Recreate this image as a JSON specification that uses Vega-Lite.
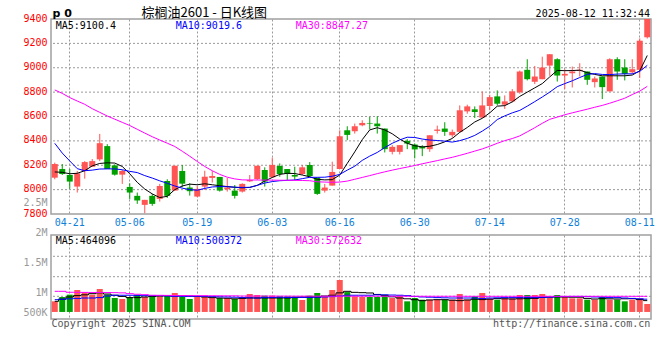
{
"$schema": "https://vega.github.io/schema/vega-lite/v6.json",
"background": "white",
"padding": {"left": 22, "top": 5, "right": 10, "bottom": 0},
"spacing": 21,
"bounds": "flush",
"resolve": {"scale": {"color": "independent"}},
"config": {
  "view": {"stroke": "#a0a0a0", "strokeWidth": 1.5},
  "axis": {"domain": false, "ticks": false, "gridColor": "#9a9a9a", "gridDash": [2, 2], "gridWidth": 1, "labelFont": "DejaVu Sans Mono", "labelFontSize": 10, "titleFont": "DejaVu Sans Mono", "titleFontWeight": "normal", "labelOverlap": false},
  "text": {"font": "DejaVu Sans Mono", "fontSize": 10}
},
"datasets": {
  "k": [
{"d":"04-17","o":8098,"h":8221,"l":8085,"c":8210,"ma5":8145,"ma10":8380,"ma30":8818,"v":446000,"vm5":446000,"vm10":488000,"vm30":699000},
{"d":"04-18","o":8169,"h":8210,"l":8120,"c":8128,"ma5":8142,"ma10":8300,"ma30":8790,"v":556000,"vm5":500000,"vm10":500000,"vm30":699000},
{"d":"04-21","o":8120,"h":8169,"l":8008,"c":8066,"ma5":8130,"ma10":8235,"ma30":8755,"v":615000,"vm5":556000,"vm10":510000,"vm30":675000},
{"d":"04-22","o":8025,"h":8153,"l":7976,"c":8134,"ma5":8134,"ma10":8172,"ma30":8727,"v":732000,"vm5":590000,"vm10":520000,"vm30":673000},
{"d":"04-23","o":8153,"h":8234,"l":8090,"c":8226,"ma5":8155,"ma10":8155,"ma30":8700,"v":673000,"vm5":610000,"vm10":530000,"vm30":672000},
{"d":"04-24","o":8188,"h":8251,"l":8188,"c":8234,"ma5":8195,"ma10":8160,"ma30":8664,"v":615000,"vm5":640000,"vm10":530000,"vm30":670000},
{"d":"04-25","o":8248,"h":8457,"l":8234,"c":8381,"ma5":8215,"ma10":8169,"ma30":8634,"v":758000,"vm5":660000,"vm10":540000,"vm30":670000},
{"d":"04-28","o":8357,"h":8373,"l":8169,"c":8169,"ma5":8220,"ma10":8170,"ma30":8604,"v":615000,"vm5":630000,"vm10":580000,"vm30":668000},
{"d":"04-29","o":8199,"h":8207,"l":8115,"c":8123,"ma5":8218,"ma10":8170,"ma30":8578,"v":530000,"vm5":600000,"vm10":600000,"vm30":665000},
{"d":"04-30","o":8123,"h":8161,"l":8047,"c":8153,"ma5":8190,"ma10":8163,"ma30":8552,"v":505000,"vm5":570000,"vm10":600000,"vm30":660000},
{"d":"05-06","o":8022,"h":8052,"l":7921,"c":7976,"ma5":8130,"ma10":8150,"ma30":8526,"v":556000,"vm5":540000,"vm10":600000,"vm30":640000},
{"d":"05-07","o":7949,"h":7976,"l":7883,"c":7911,"ma5":8060,"ma10":8140,"ma30":8495,"v":615000,"vm5":540000,"vm10":590000,"vm30":625000},
{"d":"05-08","o":7875,"h":7916,"l":7807,"c":7916,"ma5":8005,"ma10":8115,"ma30":8464,"v":556000,"vm5":556000,"vm10":590000,"vm30":615000},
{"d":"05-09","o":7949,"h":7965,"l":7867,"c":7883,"ma5":7965,"ma10":8095,"ma30":8434,"v":556000,"vm5":570000,"vm10":590000,"vm30":600000},
{"d":"05-12","o":7924,"h":8047,"l":7902,"c":8030,"ma5":7935,"ma10":8072,"ma30":8407,"v":572000,"vm5":580000,"vm10":590000,"vm30":598000},
{"d":"05-13","o":8071,"h":8085,"l":7932,"c":7949,"ma5":7945,"ma10":8052,"ma30":8381,"v":606000,"vm5":589000,"vm10":580000,"vm30":596000},
{"d":"05-14","o":7992,"h":8196,"l":7992,"c":8196,"ma5":8000,"ma10":8030,"ma30":8354,"v":657000,"vm5":589000,"vm10":572000,"vm30":594000},
{"d":"05-15","o":8153,"h":8202,"l":8019,"c":8049,"ma5":8030,"ma10":8012,"ma30":8315,"v":556000,"vm5":589000,"vm10":572000,"vm30":592000},
{"d":"05-16","o":8017,"h":8052,"l":7951,"c":7987,"ma5":8045,"ma10":8000,"ma30":8274,"v":505000,"vm5":580000,"vm10":572000,"vm30":590000},
{"d":"05-19","o":7943,"h":8030,"l":7938,"c":8006,"ma5":8040,"ma10":7995,"ma30":8231,"v":572000,"vm5":570000,"vm10":572000,"vm30":589000},
{"d":"05-20","o":8025,"h":8155,"l":7998,"c":8106,"ma5":8048,"ma10":8010,"ma30":8190,"v":589000,"vm5":556000,"vm10":572000,"vm30":588000},
{"d":"05-21","o":8096,"h":8153,"l":8058,"c":8112,"ma5":8040,"ma10":8022,"ma30":8155,"v":530000,"vm5":540000,"vm10":565000,"vm30":587000},
{"d":"05-22","o":8104,"h":8104,"l":7984,"c":7992,"ma5":8032,"ma10":8025,"ma30":8125,"v":530000,"vm5":530000,"vm10":560000,"vm30":586000},
{"d":"05-23","o":8003,"h":8096,"l":7984,"c":8017,"ma5":8025,"ma10":8024,"ma30":8102,"v":530000,"vm5":525000,"vm10":556000,"vm30":585000},
{"d":"05-26","o":7992,"h":8038,"l":7927,"c":7949,"ma5":8019,"ma10":8020,"ma30":8088,"v":505000,"vm5":510000,"vm10":550000,"vm30":585000},
{"d":"05-27","o":7984,"h":8052,"l":7976,"c":8047,"ma5":8015,"ma10":8018,"ma30":8080,"v":556000,"vm5":520000,"vm10":540000,"vm30":580000},
{"d":"05-28","o":8068,"h":8120,"l":8063,"c":8079,"ma5":8018,"ma10":8019,"ma30":8079,"v":631000,"vm5":530000,"vm10":535000,"vm30":580000},
{"d":"05-29","o":8087,"h":8196,"l":8079,"c":8196,"ma5":8035,"ma10":8035,"ma30":8079,"v":606000,"vm5":530000,"vm10":530000,"vm30":579000},
{"d":"05-30","o":8161,"h":8183,"l":8025,"c":8066,"ma5":8070,"ma10":8054,"ma30":8078,"v":589000,"vm5":530000,"vm10":540000,"vm30":579000},
{"d":"06-03","o":8101,"h":8262,"l":8101,"c":8202,"ma5":8100,"ma10":8066,"ma30":8078,"v":589000,"vm5":530000,"vm10":545000,"vm30":578000},
{"d":"06-04","o":8194,"h":8215,"l":8106,"c":8128,"ma5":8125,"ma10":8073,"ma30":8077,"v":572000,"vm5":530000,"vm10":550000,"vm30":578000},
{"d":"06-05","o":8169,"h":8169,"l":8079,"c":8128,"ma5":8134,"ma10":8076,"ma30":8077,"v":572000,"vm5":530000,"vm10":545000,"vm30":578000},
{"d":"06-06","o":8120,"h":8188,"l":8079,"c":8107,"ma5":8132,"ma10":8079,"ma30":8076,"v":572000,"vm5":540000,"vm10":545000,"vm30":577000},
{"d":"06-09","o":8128,"h":8202,"l":8120,"c":8183,"ma5":8120,"ma10":8090,"ma30":8075,"v":480000,"vm5":556000,"vm10":545000,"vm30":577000},
{"d":"06-10","o":8202,"h":8226,"l":8101,"c":8112,"ma5":8105,"ma10":8101,"ma30":8073,"v":589000,"vm5":556000,"vm10":545000,"vm30":577000},
{"d":"06-11","o":8098,"h":8098,"l":7957,"c":7965,"ma5":8085,"ma10":8101,"ma30":8064,"v":657000,"vm5":556000,"vm10":550000,"vm30":576000},
{"d":"06-12","o":7992,"h":8047,"l":7976,"c":8017,"ma5":8080,"ma10":8102,"ma30":8062,"v":572000,"vm5":580000,"vm10":556000,"vm30":576000},
{"d":"06-13","o":8033,"h":8229,"l":8033,"c":8145,"ma5":8082,"ma10":8110,"ma30":8060,"v":732000,"vm5":600000,"vm10":565000,"vm30":576000},
{"d":"06-16","o":8169,"h":8487,"l":8169,"c":8438,"ma5":8120,"ma10":8125,"ma30":8062,"v":985000,"vm5":660000,"vm10":580000,"vm30":575000},
{"d":"06-17","o":8487,"h":8520,"l":8406,"c":8449,"ma5":8215,"ma10":8160,"ma30":8070,"v":680000,"vm5":699000,"vm10":600000,"vm30":575000},
{"d":"06-18","o":8479,"h":8542,"l":8460,"c":8520,"ma5":8310,"ma10":8192,"ma30":8085,"v":572000,"vm5":673000,"vm10":600000,"vm30":575000},
{"d":"06-19","o":8528,"h":8569,"l":8520,"c":8547,"ma5":8410,"ma10":8240,"ma30":8100,"v":556000,"vm5":665000,"vm10":600000,"vm30":575000},
{"d":"06-20","o":8547,"h":8596,"l":8493,"c":8542,"ma5":8490,"ma10":8275,"ma30":8115,"v":556000,"vm5":657000,"vm10":600000,"vm30":575000},
{"d":"06-23","o":8542,"h":8602,"l":8460,"c":8520,"ma5":8508,"ma10":8305,"ma30":8131,"v":556000,"vm5":620000,"vm10":610000,"vm30":575000},
{"d":"06-24","o":8501,"h":8501,"l":8305,"c":8332,"ma5":8490,"ma10":8345,"ma30":8146,"v":615000,"vm5":590000,"vm10":610000,"vm30":575000},
{"d":"06-25","o":8310,"h":8365,"l":8289,"c":8351,"ma5":8458,"ma10":8380,"ma30":8160,"v":530000,"vm5":560000,"vm10":605000,"vm30":575000},
{"d":"06-26","o":8310,"h":8365,"l":8289,"c":8365,"ma5":8415,"ma10":8408,"ma30":8173,"v":589000,"vm5":530000,"vm10":600000,"vm30":575000},
{"d":"06-27","o":8400,"h":8414,"l":8332,"c":8378,"ma5":8380,"ma10":8430,"ma30":8185,"v":446000,"vm5":510000,"vm10":590000,"vm30":574000},
{"d":"06-30","o":8370,"h":8378,"l":8256,"c":8330,"ma5":8360,"ma10":8428,"ma30":8198,"v":530000,"vm5":488000,"vm10":570000,"vm30":574000},
{"d":"07-01","o":8351,"h":8365,"l":8275,"c":8338,"ma5":8351,"ma10":8415,"ma30":8212,"v":488000,"vm5":463000,"vm10":556000,"vm30":574000},
{"d":"07-02","o":8332,"h":8446,"l":8310,"c":8446,"ma5":8356,"ma10":8407,"ma30":8225,"v":488000,"vm5":480000,"vm10":550000,"vm30":574000},
{"d":"07-03","o":8482,"h":8525,"l":8460,"c":8493,"ma5":8370,"ma10":8403,"ma30":8238,"v":488000,"vm5":488000,"vm10":540000,"vm30":574000},
{"d":"07-04","o":8501,"h":8553,"l":8441,"c":8474,"ma5":8392,"ma10":8398,"ma30":8252,"v":488000,"vm5":488000,"vm10":535000,"vm30":574000},
{"d":"07-07","o":8446,"h":8493,"l":8427,"c":8474,"ma5":8420,"ma10":8390,"ma30":8265,"v":488000,"vm5":475000,"vm10":530000,"vm30":574000},
{"d":"07-08","o":8474,"h":8691,"l":8466,"c":8651,"ma5":8470,"ma10":8402,"ma30":8281,"v":631000,"vm5":463000,"vm10":530000,"vm30":573000},
{"d":"07-09","o":8642,"h":8697,"l":8623,"c":8683,"ma5":8510,"ma10":8420,"ma30":8298,"v":488000,"vm5":480000,"vm10":530000,"vm30":573000},
{"d":"07-10","o":8659,"h":8683,"l":8588,"c":8637,"ma5":8555,"ma10":8445,"ma30":8316,"v":572000,"vm5":500000,"vm10":530000,"vm30":573000},
{"d":"07-11","o":8591,"h":8806,"l":8588,"c":8691,"ma5":8585,"ma10":8480,"ma30":8334,"v":657000,"vm5":490000,"vm10":520000,"vm30":573000},
{"d":"07-14","o":8686,"h":8778,"l":8651,"c":8759,"ma5":8630,"ma10":8520,"ma30":8356,"v":522000,"vm5":500000,"vm10":530000,"vm30":573000},
{"d":"07-15","o":8765,"h":8814,"l":8691,"c":8705,"ma5":8685,"ma10":8575,"ma30":8380,"v":488000,"vm5":515000,"vm10":535000,"vm30":573000},
{"d":"07-16","o":8697,"h":8773,"l":8662,"c":8724,"ma5":8689,"ma10":8605,"ma30":8402,"v":522000,"vm5":510000,"vm10":540000,"vm30":573000},
{"d":"07-17","o":8724,"h":8825,"l":8716,"c":8806,"ma5":8720,"ma10":8630,"ma30":8419,"v":522000,"vm5":505000,"vm10":540000,"vm30":573000},
{"d":"07-18","o":8798,"h":8977,"l":8787,"c":8969,"ma5":8765,"ma10":8650,"ma30":8441,"v":606000,"vm5":510000,"vm10":540000,"vm30":573000},
{"d":"07-21","o":8983,"h":9070,"l":8896,"c":8906,"ma5":8800,"ma10":8685,"ma30":8474,"v":606000,"vm5":515000,"vm10":540000,"vm30":573000},
{"d":"07-22","o":8885,"h":9015,"l":8866,"c":8928,"ma5":8835,"ma10":8722,"ma30":8508,"v":606000,"vm5":520000,"vm10":540000,"vm30":573000},
{"d":"07-23","o":8906,"h":9091,"l":8906,"c":9002,"ma5":8870,"ma10":8760,"ma30":8544,"v":631000,"vm5":545000,"vm10":545000,"vm30":573000},
{"d":"07-24","o":9018,"h":9111,"l":8934,"c":9111,"ma5":8925,"ma10":8800,"ma30":8577,"v":547000,"vm5":556000,"vm10":550000,"vm30":573000},
{"d":"07-25","o":9070,"h":9078,"l":8887,"c":8936,"ma5":8978,"ma10":8845,"ma30":8595,"v":606000,"vm5":556000,"vm10":565000,"vm30":573000},
{"d":"07-28","o":8936,"h":8988,"l":8825,"c":8950,"ma5":8976,"ma10":8870,"ma30":8614,"v":572000,"vm5":556000,"vm10":565000,"vm30":573000},
{"d":"07-29","o":8955,"h":9010,"l":8838,"c":8969,"ma5":8977,"ma10":8893,"ma30":8630,"v":522000,"vm5":550000,"vm10":570000,"vm30":573000},
{"d":"07-30","o":8974,"h":9037,"l":8928,"c":8983,"ma5":8980,"ma10":8920,"ma30":8645,"v":522000,"vm5":550000,"vm10":570000,"vm30":573000},
{"d":"07-31","o":8969,"h":8969,"l":8860,"c":8901,"ma5":8960,"ma10":8945,"ma30":8660,"v":488000,"vm5":520000,"vm10":565000,"vm30":573000},
{"d":"08-01","o":8882,"h":8928,"l":8838,"c":8912,"ma5":8945,"ma10":8952,"ma30":8676,"v":488000,"vm5":505000,"vm10":556000,"vm30":573000},
{"d":"08-04","o":8928,"h":8928,"l":8743,"c":8841,"ma5":8934,"ma10":8945,"ma30":8691,"v":556000,"vm5":514000,"vm10":550000,"vm30":573000},
{"d":"08-05","o":8806,"h":9078,"l":8806,"c":9070,"ma5":8934,"ma10":8944,"ma30":8709,"v":488000,"vm5":510000,"vm10":545000,"vm30":573000},
{"d":"08-06","o":9070,"h":9086,"l":8901,"c":8969,"ma5":8934,"ma10":8948,"ma30":8729,"v":488000,"vm5":505000,"vm10":540000,"vm30":573000},
{"d":"08-07","o":9002,"h":9070,"l":8896,"c":8950,"ma5":8934,"ma10":8950,"ma30":8750,"v":446000,"vm5":510000,"vm10":530000,"vm30":573000},
{"d":"08-08","o":8963,"h":9070,"l":8950,"c":8988,"ma5":8940,"ma10":8950,"ma30":8780,"v":488000,"vm5":514000,"vm10":520000,"vm30":573000},
{"d":"08-11","o":8983,"h":9241,"l":8915,"c":9222,"ma5":8975,"ma10":8970,"ma30":8808,"v":522000,"vm5":490000,"vm10":510000,"vm30":573000},
{"d":"08-12","o":9250,"h":9400,"l":9240,"c":9400,"ma5":9100.4,"ma10":9019.6,"ma30":8847.27,"v":379000,"vm5":464096,"vm10":500372,"vm30":572632}
  ],
  "gridMain": [{"g": 8000}, {"g": 8200}, {"g": 8400}, {"g": 8600}, {"g": 8800}, {"g": 9000}, {"g": 9200}],
  "gridVol": [{"g": 573000}, {"g": 1068000}, {"g": 1583000}],
  "mainLeg": [
    {"key": "ma5", "text": "MA5:9100.4", "d": "04-17"},
    {"key": "ma10", "text": "MA10:9019.6", "d": "05-14"},
    {"key": "ma30", "text": "MA30:8847.27", "d": "06-06"}
  ],
  "volLeg": [
    {"key": "vm5", "text": "MA5:464096", "d": "04-17"},
    {"key": "vm10", "text": "MA10:500372", "d": "05-14"},
    {"key": "vm30", "text": "MA30:572632", "d": "06-06"}
  ]
},
"vconcat": [
  {
    "width": 600,
    "height": 195,
    "data": {"name": "k"},
    "resolve": {"axis": {"x": "independent", "y": "independent"}},
    "layer": [
      {
        "data": {"name": "gridMain"},
        "mark": {"type": "rule", "color": "#9a9a9a", "strokeWidth": 1, "strokeDash": [2, 2]},
        "encoding": {
          "y": {"field": "g", "type": "quantitative", "scale": {"domain": [7800, 9400], "nice": false, "zero": false}, "axis": null}
        }
      },
      {
        "mark": {"type": "rule", "strokeWidth": 1},
        "encoding": {
          "x": {"field": "d", "type": "ordinal",
            "scale": {"domain": ["04-17","04-18","04-21","04-22","04-23","04-24","04-25","04-28","04-29","04-30","05-06","05-07","05-08","05-09","05-12","05-13","05-14","05-15","05-16","05-19","05-20","05-21","05-22","05-23","05-26","05-27","05-28","05-29","05-30","06-03","06-04","06-05","06-06","06-09","06-10","06-11","06-12","06-13","06-16","06-17","06-18","06-19","06-20","06-23","06-24","06-25","06-26","06-27","06-30","07-01","07-02","07-03","07-04","07-07","07-08","07-09","07-10","07-11","07-14","07-15","07-16","07-17","07-18","07-21","07-22","07-23","07-24","07-25","07-28","07-29","07-30","07-31","08-01","08-04","08-05","08-06","08-07","08-08","08-11","08-12"], "paddingInner": 0, "paddingOuter": 0},
            "axis": {"orient": "bottom", "values": ["04-21","05-06","05-19","06-03","06-16","06-30","07-14","07-28","08-11"], "grid": true, "bandPosition": 0.5, "labelAngle": 0, "labelColor": "#0f7fd8", "labelPadding": 3, "labelFlush": 12, "labelFlushOffset": 10, "title": null}},
          "y": {"field": "l", "type": "quantitative", "axis": null},
          "y2": {"field": "h"},
          "color": {"condition": {"test": "datum.c >= datum.o", "value": "#ff5555"}, "value": "#00a000"}
        }
      },
      {
        "mark": {"type": "bar", "size": 6},
        "encoding": {
          "x": {"field": "d", "type": "ordinal",
            "axis": {"orient": "top", "labels": false, "grid": false, "title": "2025-08-12 11:32:44", "titleX": 598.5, "titleY": -3, "titleAlign": "right", "titleBaseline": "alphabetic", "titleFontSize": 10, "titleColor": "#000000"}},
          "y": {"field": "o", "type": "quantitative", "axis": null},
          "y2": {"field": "c"},
          "color": {"condition": {"test": "datum.c >= datum.o", "value": "#ff5555"}, "value": "#00a000"}
        }
      },
      {
        "transform": [{"fold": ["ma5", "ma10", "ma30"], "as": ["key", "val"]}],
        "mark": {"type": "line", "strokeWidth": 1},
        "encoding": {
          "x": {"field": "d", "type": "ordinal",
            "axis": {"orient": "top", "labels": false, "grid": false, "title": "棕榈油2601 - 日K线图", "titleX": 90, "titleY": -3, "titleAlign": "left", "titleBaseline": "alphabetic", "titleFont": "Noto Sans CJK SC", "titleFontSize": 13, "titleColor": "#000000"}},
          "y": {"field": "val", "type": "quantitative",
            "axis": {"orient": "left", "values": [7800, 8000, 8200, 8400, 8600, 8800, 9000, 9200, 9400], "format": "d", "grid": false, "labelColor": "#ff0000", "labelPadding": 4, "labelOffset": -1,
              "title": "p 0", "titleAngle": 0, "titleX": 1, "titleY": -3, "titleAlign": "left", "titleBaseline": "alphabetic", "titleFont": "DejaVu Sans", "titleFontWeight": "bold", "titleFontSize": 11, "titleColor": "#000000"}},
          "color": {"field": "key", "type": "nominal", "scale": {"domain": ["ma5", "ma10", "ma30"], "range": ["#000000", "#0000ff", "#ff00ff"]}, "legend": null}
        }
      },
      {
        "data": {"name": "mainLeg"},
        "mark": {"type": "text", "align": "left", "baseline": "top", "dx": 1, "dy": 2},
        "encoding": {
          "x": {"field": "d", "type": "ordinal", "axis": null},
          "y": {"datum": 9400, "type": "quantitative",
            "axis": {"orient": "left", "values": [7890], "labelExpr": "'2.5M'", "grid": false, "labelColor": "#999999", "labelPadding": 4, "labelOffset": -1, "title": null}},
          "text": {"field": "text"},
          "color": {"field": "key", "type": "nominal", "legend": null}
        }
      }
    ]
  },
  {
    "width": 600,
    "height": 84,
    "data": {"name": "k"},
    "resolve": {"axis": {"x": "independent", "y": "independent"}},
    "layer": [
      {
        "data": {"name": "gridVol"},
        "mark": {"type": "rule", "color": "#9a9a9a", "strokeWidth": 1, "strokeDash": [2, 2]},
        "encoding": {
          "y": {"field": "g", "type": "quantitative", "scale": {"domain": [0, 2121000], "nice": false, "zero": false}, "axis": null}
        }
      },
      {
        "mark": {"type": "bar", "size": 6},
        "encoding": {
          "x": {"field": "d", "type": "ordinal",
            "scale": {"domain": ["04-17","04-18","04-21","04-22","04-23","04-24","04-25","04-28","04-29","04-30","05-06","05-07","05-08","05-09","05-12","05-13","05-14","05-15","05-16","05-19","05-20","05-21","05-22","05-23","05-26","05-27","05-28","05-29","05-30","06-03","06-04","06-05","06-06","06-09","06-10","06-11","06-12","06-13","06-16","06-17","06-18","06-19","06-20","06-23","06-24","06-25","06-26","06-27","06-30","07-01","07-02","07-03","07-04","07-07","07-08","07-09","07-10","07-11","07-14","07-15","07-16","07-17","07-18","07-21","07-22","07-23","07-24","07-25","07-28","07-29","07-30","07-31","08-01","08-04","08-05","08-06","08-07","08-08","08-11","08-12"], "paddingInner": 0, "paddingOuter": 0},
            "axis": {"orient": "bottom", "values": ["04-21","05-06","05-19","06-03","06-16","06-30","07-14","07-28","08-11"], "grid": true, "bandPosition": 0.5, "labels": false, "title": null}},
          "y": {"field": "v", "type": "quantitative", "axis": null},
          "y2": {"datum": 178000},
          "color": {"condition": {"test": "datum.c >= datum.o", "value": "#ff5555"}, "value": "#00a000"}
        }
      },
      {
        "transform": [{"fold": ["vm5", "vm10", "vm30"], "as": ["key", "val"]}],
        "mark": {"type": "line", "interpolate": "step", "strokeWidth": 1},
        "encoding": {
          "x": {"field": "d", "type": "ordinal",
            "axis": {"orient": "bottom", "labels": false, "grid": false,
              "title": "Copyright 2025 SINA.COM\u00a0\u00a0\u00a0\u00a0\u00a0\u00a0\u00a0\u00a0\u00a0\u00a0\u00a0\u00a0\u00a0\u00a0\u00a0\u00a0\u00a0\u00a0\u00a0\u00a0\u00a0\u00a0\u00a0\u00a0\u00a0\u00a0\u00a0\u00a0\u00a0\u00a0\u00a0\u00a0\u00a0\u00a0\u00a0\u00a0\u00a0\u00a0\u00a0\u00a0\u00a0\u00a0\u00a0\u00a0\u00a0\u00a0\u00a0\u00a0\u00a0\u00a0http://finance.sina.com.cn",
              "titleX": 0, "titleY": 7, "titleAlign": "left", "titleBaseline": "alphabetic", "titleFontSize": 10.05, "titleColor": "#555555", "titleLimit": 0}},
          "y": {"field": "val", "type": "quantitative", "axis": null},
          "color": {"field": "key", "type": "nominal", "scale": {"domain": ["vm5", "vm10", "vm30"], "range": ["#000000", "#0000ff", "#ff00ff"]}, "legend": null}
        }
      },
      {
        "data": {"name": "volLeg"},
        "mark": {"type": "text", "align": "left", "baseline": "top", "dx": 1, "dy": 1},
        "encoding": {
          "x": {"field": "d", "type": "ordinal", "axis": null},
          "y": {"datum": 2121000, "type": "quantitative",
            "axis": {"orient": "left", "values": [176750, 681750, 1439000, 2121000], "grid": false, "title": null,
              "labelExpr": "datum.value > 2000000 ? '2M' : datum.value > 1000000 ? '1.5M' : datum.value > 500000 ? '1M' : '500K'",
              "labelColor": "#999999", "labelPadding": 4,
              "labelBaseline": {"condition": {"test": "datum.value > 2000000", "value": "alphabetic"}, "value": "middle"}}},
          "text": {"field": "text"},
          "color": {"field": "key", "type": "nominal", "legend": null}
        }
      }
    ]
  }
]
}
